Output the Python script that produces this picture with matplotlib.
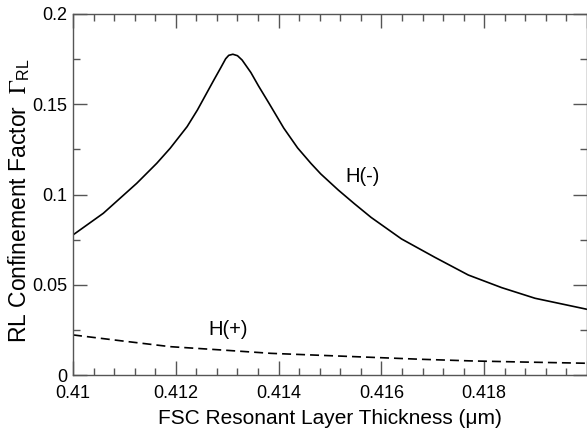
import numpy as np
import matplotlib
matplotlib.use('Agg')
from matplotlib import pyplot as plt
from matplotlib.ticker import MultipleLocator

plt.rcParams['font.family'] = ['Liberation Sans', 'DejaVu Sans']
plt.rcParams['mathtext.fontset'] = 'stix'

# H(-) mode, solid curve
x_minus = [0.41000, 0.41059, 0.41124, 0.41163, 0.41189, 0.41222, 0.41242,
           0.41274, 0.41287, 0.41297, 0.41303, 0.41311, 0.41320, 0.41329,
           0.41346, 0.41361, 0.41381, 0.41410, 0.41437, 0.41463, 0.41482,
           0.41516, 0.41547, 0.41580, 0.41639, 0.41704, 0.41769, 0.41834,
           0.41899, 0.42000]
y_minus = [0.0776, 0.0896, 0.1062, 0.1173, 0.1256, 0.1376, 0.1468,
           0.1634, 0.1700, 0.1752, 0.1771, 0.1777, 0.1769, 0.1745,
           0.1676, 0.1601, 0.1507, 0.1368, 0.1258, 0.1172, 0.1114,
           0.1025, 0.0950, 0.0873, 0.0754, 0.0652, 0.0554, 0.0484,
           0.0425, 0.0364]

# H(+) mode, dashed curve
x_plus = [0.41000, 0.41092, 0.41189, 0.41287, 0.41385, 0.41482, 0.41580,
          0.41678, 0.41775, 0.41873, 0.42000]
y_plus = [0.0222, 0.0190, 0.0157, 0.0139, 0.0120, 0.0109, 0.0098,
          0.0087, 0.0078, 0.0072, 0.0065]

xticks = [0.41, 0.412, 0.414, 0.416, 0.418, 0.42]
xlabels = ['0.41', '0.412', '0.414', '0.416', '0.418', '']
yticks = [0, 0.05, 0.1, 0.15, 0.2]
ylabels = ['0', '0.05', '0.1', '0.15', '0.2']

fig = plt.figure(figsize=(5.87, 4.37), dpi=100)
ax = fig.add_axes([73/587, 1 - 375/437, 514/587, 361/437])

ax.plot(x_minus, y_minus, '-', color='black', lw=1.2)
ax.plot(x_plus, y_plus, '--', color='black', lw=1.2, dashes=(5.4, 3))

ax.text(0.41564, 0.1100, 'H(-)', fontsize=14.5, ha='center', va='center')
ax.text(0.41302, 0.0250, 'H(+)', fontsize=14.5, ha='center', va='center')

ax.set_xlim(0.41, 0.42)
ax.set_ylim(0, 0.2)
ax.set_xticks(xticks)
ax.set_xticklabels(xlabels)
ax.set_yticks(yticks)
ax.set_yticklabels(ylabels)
ax.xaxis.set_minor_locator(MultipleLocator(0.0004))
ax.yaxis.set_minor_locator(MultipleLocator(0.025))

ax.tick_params(which='both', direction='in', top=True, right=True,
               labelsize=13, color='#555555')
ax.tick_params(axis='x', which='major', pad=7.5)
ax.tick_params(axis='y', which='major', pad=4)
ax.tick_params(which='major', length=10, width=1)
ax.tick_params(which='minor', length=5, width=1)
for s in ax.spines.values():
    s.set_color('#555555')
    s.set_linewidth(1)

fig.text(330/587, 1 - 419/437, 'FSC Resonant Layer Thickness (\u03bcm)',
         fontsize=15, ha='center', va='center')
fig.text(19/587, 1 - 201/437, r'RL Confinement Factor  $\Gamma_{\mathregular{RL}}$',
         fontsize=16.5, rotation=90, ha='center', va='center')

fig.savefig('out.png', dpi=100)
